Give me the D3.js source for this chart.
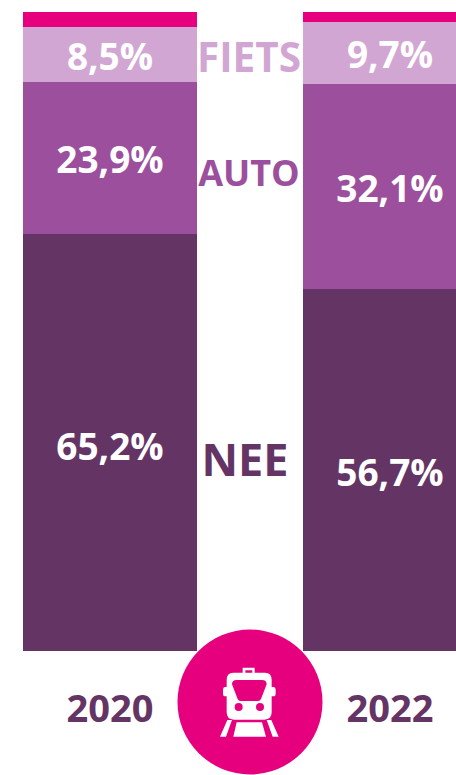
<!DOCTYPE html>
<html>
<head>
<meta charset="utf-8">
<script src="https://cdn.jsdelivr.net/npm/d3@7"></script>
<style>
html, body { margin: 0; padding: 0; background: #fff; overflow: hidden; }
svg { display: block; }
text { font-family: "Open Sans", sans-serif; font-weight: 700; }
</style>
</head>
<body>
<svg id="chart" width="456" height="775"></svg>
<script>
// the values
var years = ["2020", "2022"];
var categories = ["NEE", "AUTO", "FIETS", "OV"];
var nee = [65.2, 56.7];
var auto = [23.9, 32.1];
var fiets = [8.5, 9.7];
var ov = [2.4, 1.5];
var colors = ["#643464", "#9c4f9c", "#d2a6d2", "#e6007e"];

var svg = d3.select("#chart");

// second bar runs off the right side of the picture, same as the original
var x = d3.scaleBand().domain(years).range([23, 477]).paddingInner(0.3786);
var y = d3.scaleLinear().domain([0, 100]).rangeRound([651, 12]);

var color = d3.scaleOrdinal().domain(categories).range(colors);

// making the rows for the stack
var rows = years.map(function(year, i) {
  return { year: year, NEE: nee[i], AUTO: auto[i], FIETS: fiets[i], OV: ov[i] };
});
var series = d3.stack().keys(categories)(rows);

var layer = svg.selectAll(".layer")
  .data(series)
  .enter().append("g")
    .attr("class", "layer")
    .attr("fill", function(d) { return color(d.key); });

layer.selectAll("rect")
  .data(function(d) { return d; })
  .enter().append("rect")
    .attr("x", function(d) { return x(d.data.year); })
    .attr("y", function(d) { return y(d[1]); })
    .attr("width", x.bandwidth())
    .attr("height", function(d) { return y(d[0]) - y(d[1]); });

// percentage labels, nudged per bar because they are not centred in the original
var labelShift = { NEE: [4, 3], AUTO: [2, 2], FIETS: [2, 2] };

categories.slice(0, 3).forEach(function(cat) {
  var s = series[categories.indexOf(cat)];
  svg.selectAll(".value-" + cat)
    .data(s)
    .enter().append("text")
      .attr("class", "value-" + cat)
      .attr("x", function(d) { return x(d.data.year) + 87; })
      .attr("y", function(d, i) { return (y(d[0]) + y(d[1])) / 2 + labelShift[cat][i]; })
      .attr("dy", "0.36em")
      .attr("text-anchor", "middle")
      .attr("font-size", 37)
      .attr("fill", "#fff")
      .text(function(d) { return (d[1] - d[0]).toFixed(1).replace(".", ",") + "%"; });
});

// category names between the bars
var catLabels = ["FIETS", "AUTO", "NEE"];
var catLabelX = [249, 249, 245];
var catLabelY = [57, 173, 460];
var catLabelSize = [40.5, 36, 45];

svg.selectAll(".cat")
  .data(catLabels)
  .enter().append("text")
    .attr("class", "cat")
    .attr("x", function(d, i) { return catLabelX[i]; })
    .attr("y", function(d, i) { return catLabelY[i]; })
    .attr("dy", "0.36em")
    .attr("text-anchor", "middle")
    .attr("font-size", function(d, i) { return catLabelSize[i]; })
    .attr("fill", function(d) { return color(d); })
    .text(function(d) { return d; });

// year labels under the bars
svg.selectAll(".year")
  .data(years)
  .enter().append("text")
    .attr("class", "year")
    .attr("x", function(d) { return x(d) + 87; })
    .attr("y", 708)
    .attr("dy", "0.36em")
    .attr("text-anchor", "middle")
    .attr("font-size", 38)
    .attr("fill", colors[0])
    .text(function(d) { return d; });

// pink circle with the train icon
svg.append("circle")
  .attr("cx", 250)
  .attr("cy", 702)
  .attr("r", 72.5)
  .attr("fill", colors[3]);

// icon drawn in the coordinates of the zoomed crop, so scaled down by 3
var icon = svg.append("g").attr("transform", "translate(170,625) scale(0.3333)");

icon.append("path")
  .attr("fill", "#fff")
  .attr("fill-rule", "evenodd")
  .attr("d", "M218 128 H254 V143 H285 Q305 143 305 165 V186 H311 Q317 186 317 194 V206 Q317 214 311 214 H305 V262 Q305 284 283 284 H192 Q170 284 170 262 V214 H165 Q159 214 159 206 V194 Q159 186 165 186 H170 V165 Q170 143 190 143 H218 Z"
    + " M226 136 V143 H247 V136 Z"
    + " M200 165 Q186 165 186 178 L203 222 Q205 228 212 228 H264 Q271 228 273 222 L290 178 Q290 165 276 165 Z");

icon.selectAll(".lamp")
  .data([206, 270])
  .enter().append("circle")
    .attr("class", "lamp")
    .attr("cx", function(d) { return d; })
    .attr("cy", 246)
    .attr("r", 12)
    .attr("fill", colors[3]);

icon.append("path")
  .attr("fill", "#fff")
  .attr("d", "M172 285 H186 L168 335 H150 Z M290 285 H304 L326 335 H308 Z M200 292 H276 L288 335 H190 Z");
</script>
</body>
</html>
